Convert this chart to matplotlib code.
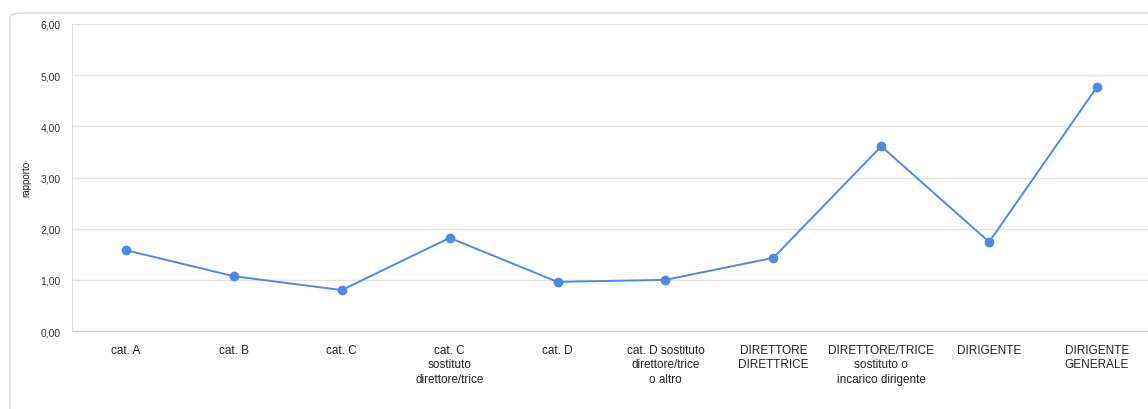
import matplotlib.pyplot as plt
from matplotlib.patches import FancyBboxPatch

plt.rcParams['font.family'] = ['Liberation Sans', 'DejaVu Sans']

categories = [
    "cat. A",
    "cat. B",
    "cat. C",
    "cat. C\nsostituto\ndirettore/trice",
    "cat. D",
    "cat. D sostituto\ndirettore/trice\no altro",
    "DIRETTORE\nDIRETTRICE",
    "DIRETTORE/TRICE\nsostituto o\nincarico dirigente",
    "DIRIGENTE",
    "DIRIGENTE\nGENERALE",
]
rapporto = [1.58, 1.07, 0.80, 1.82, 0.96, 1.00, 1.43, 3.61, 1.74, 4.77]
y_ticks = [0, 1, 2, 3, 4, 5, 6]
y_tick_labels = ["0,00", "1,00", "2,00", "3,00", "4,00", "5,00", "6,00"]

fig = plt.figure(figsize=(11.48, 4.10), dpi=100)

# card frame with rounded corner, kept behind the axes
card = FancyBboxPatch((10 / 1148, -0.1), 1.2, 1 - 14 / 410 + 0.1,
                      boxstyle="round,pad=0,rounding_size=0.012",
                      transform=fig.transFigure, facecolor="white",
                      edgecolor="#dadada", linewidth=1.0, zorder=-5)
fig.add_artist(card)

ax = fig.add_axes([72 / 1148, 1 - 332 / 410, 1079 / 1148, 307 / 410])
ax.set_facecolor("none")

x = list(range(len(categories)))
ax.plot(x, rapporto, color="#4f89e6", linewidth=1.4, marker="o",
        markersize=6, zorder=3, clip_on=False)

ax.set_xlim(-0.5, len(categories) - 0.5)
ax.set_ylim(0, 6)
ax.set_yticks(y_ticks)
ax.set_yticklabels(y_tick_labels, fontsize=7.5, color="#333333")
ax.set_xticks(x)
ax.set_xticklabels(categories, fontsize=8.5, color="#222222",
                   linespacing=1.3, va="top")
ax.tick_params(axis="both", length=0)
ax.tick_params(axis="x", pad=9)
ax.tick_params(axis="y", pad=8)

ax.grid(axis="y", color="#e4e4e4", linewidth=1.0)
ax.set_axisbelow(True)
for side in ("top", "right"):
    ax.spines[side].set_visible(False)
ax.spines["bottom"].set_color("#cfcfcf")
ax.spines["left"].set_color("#e0e0e0")

ax.set_ylabel("rapporto", fontsize=7, color="#222222")
ax.yaxis.set_label_coords(-0.038, 0.5)

fig.savefig("out.png", dpi=100)
